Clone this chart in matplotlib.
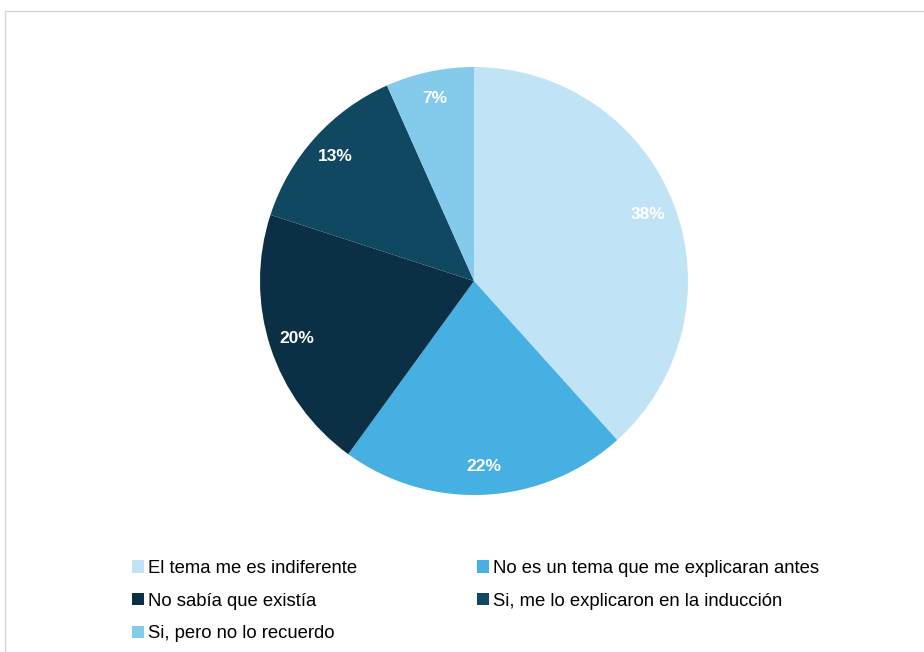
import matplotlib.pyplot as plt
from matplotlib.patches import Rectangle, Patch

plt.rcParams['font.family'] = ['Liberation Sans', 'DejaVu Sans']

labels = ['El tema me es indiferente', 'No es un tema que me explicaran antes',
          'No sabía que existía', 'Si, me lo explicaron en la inducción',
          'Si, pero no lo recuerdo']
counts = [23, 13, 12, 8, 4]
colors = ['#C0E4F5', '#45B0E1', '#0B2F44', '#104862', '#83CAEB']

fig = plt.figure(figsize=(9.24, 6.52), dpi=100)
W, H = 924, 652

# thin frame around the chart area
fig.patches.append(Rectangle((5 / W, -0.1), 1.2, 1 - 11 / H + 0.1, transform=fig.transFigure,
                             fill=False, edgecolor='#d4d4d4', lw=1.0))

cx, cy, r = 474, 281, 214
ax = fig.add_axes([(cx - r) / W, 1 - (cy + r) / H, 2 * r / W, 2 * r / H])
wedges, texts, autotexts = ax.pie(counts, colors=colors, startangle=90, counterclock=False,
                                  autopct='%1.0f%%', pctdistance=0.87, radius=1,
                                  wedgeprops=dict(linewidth=0))
for t in autotexts:
    t.set_color('white')
    t.set_fontweight('bold')
    t.set_fontsize(12.5)
ax.set_xlim(-1, 1)
ax.set_ylim(-1, 1)
ax.axis('off')

order = [0, 2, 4, 1, 3]
handles = [Patch(facecolor=colors[i], edgecolor='none') for i in order]
fig.legend(handles, [labels[i] for i in order], ncol=2, frameon=False,
           loc='upper left', bbox_to_anchor=(132 / W, 1 - 560 / H),
           fontsize=13.3, handlelength=0.65, handleheight=0.65, handletextpad=0.22,
           columnspacing=6.5, labelspacing=0.85, borderpad=0, borderaxespad=0)

fig.savefig('out.png', dpi=100, facecolor='white')
plt.close()
